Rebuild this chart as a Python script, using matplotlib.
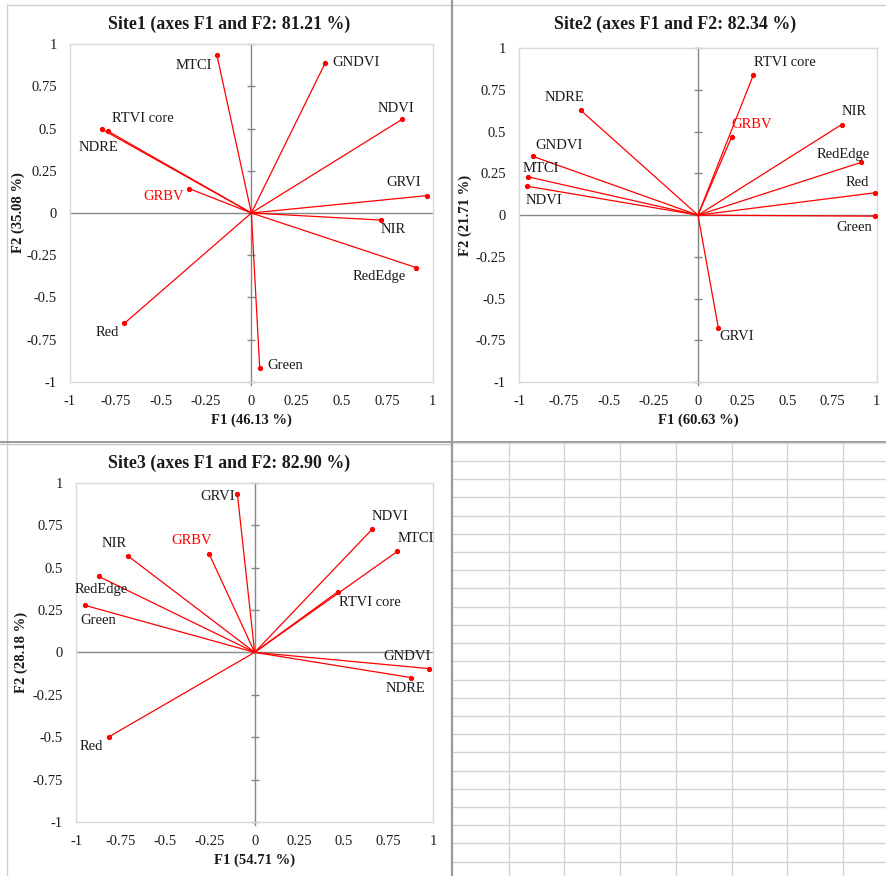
import numpy as np
import matplotlib
matplotlib.use("Agg")
import matplotlib.pyplot as plt

plt.rcParams['font.family'] = ['Liberation Serif', 'DejaVu Serif']

W, H = 887, 876
DPI = 100

# ---- loadings on F1 / F2 for each site ----
site1_vars = ["MTCI", "GNDVI", "NDVI", "GRVI", "NIR", "RedEdge", "Green", "Red",
              "GRBV", "NDRE", "RTVI core"]
site1_f1 = [-0.19, 0.408, 0.831, 0.969, 0.717, 0.910, 0.046, -0.700, -0.342, -0.824, -0.792]
site1_f2 = [0.937, 0.891, 0.555, 0.103, -0.042, -0.324, -0.917, -0.654, 0.144, 0.496, 0.486]

site2_vars = ["RTVI core", "NDRE", "GRBV", "NIR", "RedEdge", "Red", "Green",
              "GNDVI", "MTCI", "NDVI", "GRVI"]
site2_f1 = [0.310, -0.657, 0.188, 0.804, 0.912, 0.989, 0.993, -0.923, -0.953, -0.959, 0.114]
site2_f2 = [0.841, 0.629, 0.468, 0.543, 0.316, 0.134, -0.006, 0.352, 0.230, 0.174, -0.677]

site3_vars = ["GRVI", "NDVI", "MTCI", "RTVI core", "GNDVI", "NDRE", "Red", "Green",
              "RedEdge", "NIR", "GRBV"]
site3_f1 = [-0.097, 0.660, 0.800, 0.467, 0.979, 0.879, -0.819, -0.951, -0.875, -0.710, -0.256]
site3_f2 = [0.935, 0.727, 0.595, 0.358, -0.096, -0.149, -0.499, 0.277, 0.448, 0.568, 0.582]

titles = ["Site1 (axes F1 and F2: 81.21 %)",
          "Site2 (axes F1 and F2: 82.34 %)",
          "Site3 (axes F1 and F2: 82.90 %)"]
xlabels = ["F1 (46.13 %)", "F1 (60.63 %)", "F1 (54.71 %)"]
ylabels = ["F2 (35.08 %)", "F2 (21.71 %)", "F2 (28.18 %)"]

ticks = [-1, -0.75, -0.5, -0.25, 0, 0.25, 0.5, 0.75, 1]
tick_labels = ["-1", "-0.75", "-0.5", "-0.25", "0", "0.25", "0.5", "0.75", "1"]

# ---- label placement (pixel offsets from each point to label centre) ----
label_offsets = [
    {"MTCI": (-23, -11), "GNDVI": (31, 0), "NDVI": (-6, 11), "GRVI": (-23, 13),
     "NIR": (12, -9), "RedEdge": (-37, -9), "Green": (26, 2), "Red": (-17, -9),
     "GRBV": (-26, -8), "NDRE": (-3, -18), "RTVI core": (35, 13)},
    {"RTVI core": (31, 12), "NDRE": (-16, 13), "GRBV": (20, 13), "NIR": (12, 13),
     "RedEdge": (-18, 8), "Red": (-17, 10), "Green": (-21, -11), "GNDVI": (26, 11),
     "MTCI": (13, 8), "NDVI": (17, -14), "GRVI": (18, -8)},
    {"GRVI": (-20, -3), "NDVI": (18, 13), "MTCI": (19, 13), "RTVI core": (32, -11),
     "GNDVI": (-22, 12), "NDRE": (-6, -11), "Red": (-17, -9), "Green": (13, -15),
     "RedEdge": (3, -13), "NIR": (-14, 12), "GRBV": (-17, 13)},
]

# plot-area boxes in pixels: (left, right, top, bottom)
plot_boxes = [(70, 432.7, 44.3, 381.7),
              (519.3, 876.7, 48.3, 382.0),
              (76.3, 433.0, 482.7, 822.0)]
# chart object centres (pixels) for titles
title_pos = [(229.5, 24), (675, 24), (229.5, 463)]
# horizontal centre (pixels) of the rotated F2 labels
ylabel_x = [18.3, 465.0, 21.7]

RED = "#ff0000"
ZERO = "#868686"
FRAME = "#d9d9d9"
TXT = "#1a1a1a"
FS = 10.5

fig = plt.figure(figsize=(W / DPI, H / DPI), dpi=DPI)
fig.patch.set_facecolor("white")


def fx(px):
    return px / W


def fy(py):
    return 1 - py / H


# ---- sheet background: cell grid in the empty quadrant ----
bg = fig.add_axes([0, 0, 1, 1])
bg.set_xlim(0, W)
bg.set_ylim(H, 0)
bg.axis("off")
col_x = [509, 564.5, 620.3, 676.3, 731.7, 787.3, 843.3]
row_y = 461 + 18.21 * np.arange(23)
for x in col_x:
    bg.plot([x, x], [443, H], color="#d4d4d4", lw=1.0)
for y in row_y:
    bg.plot([453, W], [y, y], color="#d4d4d4", lw=1.0)
# chart object borders
bg.plot([7, 452], [5, 5], color="#d0d0d0", lw=1.0)
bg.plot([453, 886], [5, 5], color="#d0d0d0", lw=1.0)
bg.plot([7, 7], [5, 442], color="#d0d0d0", lw=1.0)
bg.plot([7, 7], [443, H], color="#d0d0d0", lw=1.0)
bg.plot([0, 452], [444, 444], color="#c8c8c8", lw=1.0)
# dividers
bg.plot([452.3, 452.3], [0, H], color="#9a9a9a", lw=1.6)
bg.plot([0, W], [441.7, 441.7], color="#9a9a9a", lw=1.4)
bg.plot([453, W], [443.3, 443.3], color="#e0e0e0", lw=1.0)

sites = [(site1_vars, site1_f1, site1_f2),
         (site2_vars, site2_f1, site2_f2),
         (site3_vars, site3_f1, site3_f2)]

for i, (names, f1, f2) in enumerate(sites):
    l, r, t, b = plot_boxes[i]
    ax = fig.add_axes([fx(l), fy(b), fx(r - l), (b - t) / H])
    ax.set_xlim(-1, 1)
    ax.set_ylim(-1, 1)
    for s in ax.spines.values():
        s.set_color(FRAME)
        s.set_linewidth(1.0)
    ax.set_xticks(ticks)
    ax.set_yticks(ticks)
    ax.set_xticklabels(tick_labels)
    ax.set_yticklabels(tick_labels)
    ax.tick_params(length=0, labelsize=FS, colors=TXT, pad=9.5)

    # zero axes
    ax.axhline(0, color=ZERO, lw=1.0, zorder=1)
    ax.plot([0, 0], [-1.02, 1], color=ZERO, lw=1.0, zorder=1, clip_on=False)
    ax.plot(np.zeros(len(ticks)), ticks, ls="none", marker="_", ms=5.5,
            mew=1.0, color=ZERO, zorder=1, clip_on=False)

    # loading vectors
    for name, x, y in zip(names, f1, f2):
        ax.plot([0, x], [0, y], color=RED, lw=0.9, zorder=3)
        ax.plot([x], [y], ls="none", marker="o", ms=2.8, color=RED, zorder=4)
        dx, dy = label_offsets[i][name]
        ax.annotate(name, (x, y), xytext=(dx, dy), textcoords="offset pixels",
                    ha="center", va="center", fontsize=FS,
                    color=RED if name == "GRBV" else TXT, zorder=5)

    ax.set_xlabel(xlabels[i], fontsize=FS, fontweight="bold", color=TXT, labelpad=4)
    ax.set_ylabel(ylabels[i], fontsize=FS, fontweight="bold", color=TXT,
                  va="center")
    ax.yaxis.set_label_coords((ylabel_x[i] - l) / (r - l), 0.5)
    tx, ty = title_pos[i]
    fig.text(fx(tx), fy(ty), titles[i], ha="center", va="center",
             fontsize=12.9, fontweight="bold", color=TXT)

fig.savefig("out.png", dpi=DPI)
